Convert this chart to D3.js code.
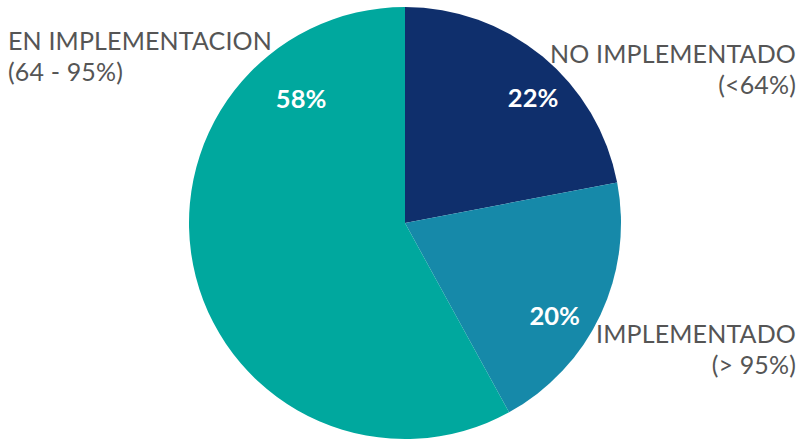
<!DOCTYPE html>
<html>
<head>
<meta charset="utf-8">
<script src="https://cdn.jsdelivr.net/npm/d3@7"></script>
<style>
  html, body { margin: 0; padding: 0; background: #ffffff; }
  svg { display: block; }
</style>
</head>
<body>
<svg id="chart" width="802" height="443"></svg>
<script>
// Estado de implementación: categorías y participación (%)
const categories = ["NO IMPLEMENTADO", "IMPLEMENTADO", "EN IMPLEMENTACION"];
const ranges = ["(<64%)", "(> 95%)", "(64 - 95%)"];
const shares = [22, 20, 58];
const colors = ["#0f2f6c", "#1689a9", "#00a89e"];

const width = 802, height = 443;
const cx = 405, cy = 223, radius = 216;

const svg = d3.select("#chart");
const g = svg.append("g").attr("transform", `translate(${cx},${cy})`);

const data = categories.map((c, i) => ({ name: c, range: ranges[i], value: shares[i], color: colors[i] }));

const pie = d3.pie().value(d => d.value).sort(null);
const arcs = pie(data);
const arc = d3.arc().innerRadius(0).outerRadius(radius);

g.selectAll("path.slice")
  .data(arcs)
  .join("path")
  .attr("class", "slice")
  .attr("d", arc)
  .attr("fill", d => d.data.color);

// Percentage labels: placed inside each slice (angle offset in degrees, radial fraction)
const inner = [
  { dAngle: 6, r: 0.83 },
  { dAngle: 6.5, r: 0.815 },
  { dAngle: 64.5, r: 0.75 }
];
g.selectAll("text.pct")
  .data(arcs)
  .join("text")
  .attr("class", "pct")
  .attr("x", (d, i) => {
    const a = (d.startAngle + d.endAngle) / 2 + inner[i].dAngle * Math.PI / 180;
    return Math.sin(a) * radius * inner[i].r;
  })
  .attr("y", (d, i) => {
    const a = (d.startAngle + d.endAngle) / 2 + inner[i].dAngle * Math.PI / 180;
    return -Math.cos(a) * radius * inner[i].r;
  })
  .attr("dy", "0.36em")
  .attr("text-anchor", "middle")
  .attr("fill", "#ffffff")
  .attr("font-family", "Lato, 'Open Sans', sans-serif")
  .attr("font-weight", "bold")
  .attr("font-size", 25.5)
  .text(d => d.data.value + "%");

// Category labels outside the pie
const outer = [
  { x: 796, y: 63, anchor: "end" },
  { x: 796, y: 343, anchor: "end" },
  { x: 8, y: 50, anchor: "start" }
];
const labels = svg.selectAll("text.cat")
  .data(data)
  .join("text")
  .attr("class", "cat")
  .attr("text-anchor", (d, i) => outer[i].anchor)
  .attr("fill", "#555555")
  .attr("font-family", "Lato, 'Open Sans', sans-serif")
  .attr("font-size", 25)
  .attr("letter-spacing", 0.15);

labels.append("tspan")
  .attr("x", (d, i) => outer[i].x)
  .attr("y", (d, i) => outer[i].y)
  .text(d => d.name);
labels.append("tspan")
  .attr("x", (d, i) => outer[i].x)
  .attr("dy", 30.5)
  .text(d => d.range);
</script>
</body>
</html>
